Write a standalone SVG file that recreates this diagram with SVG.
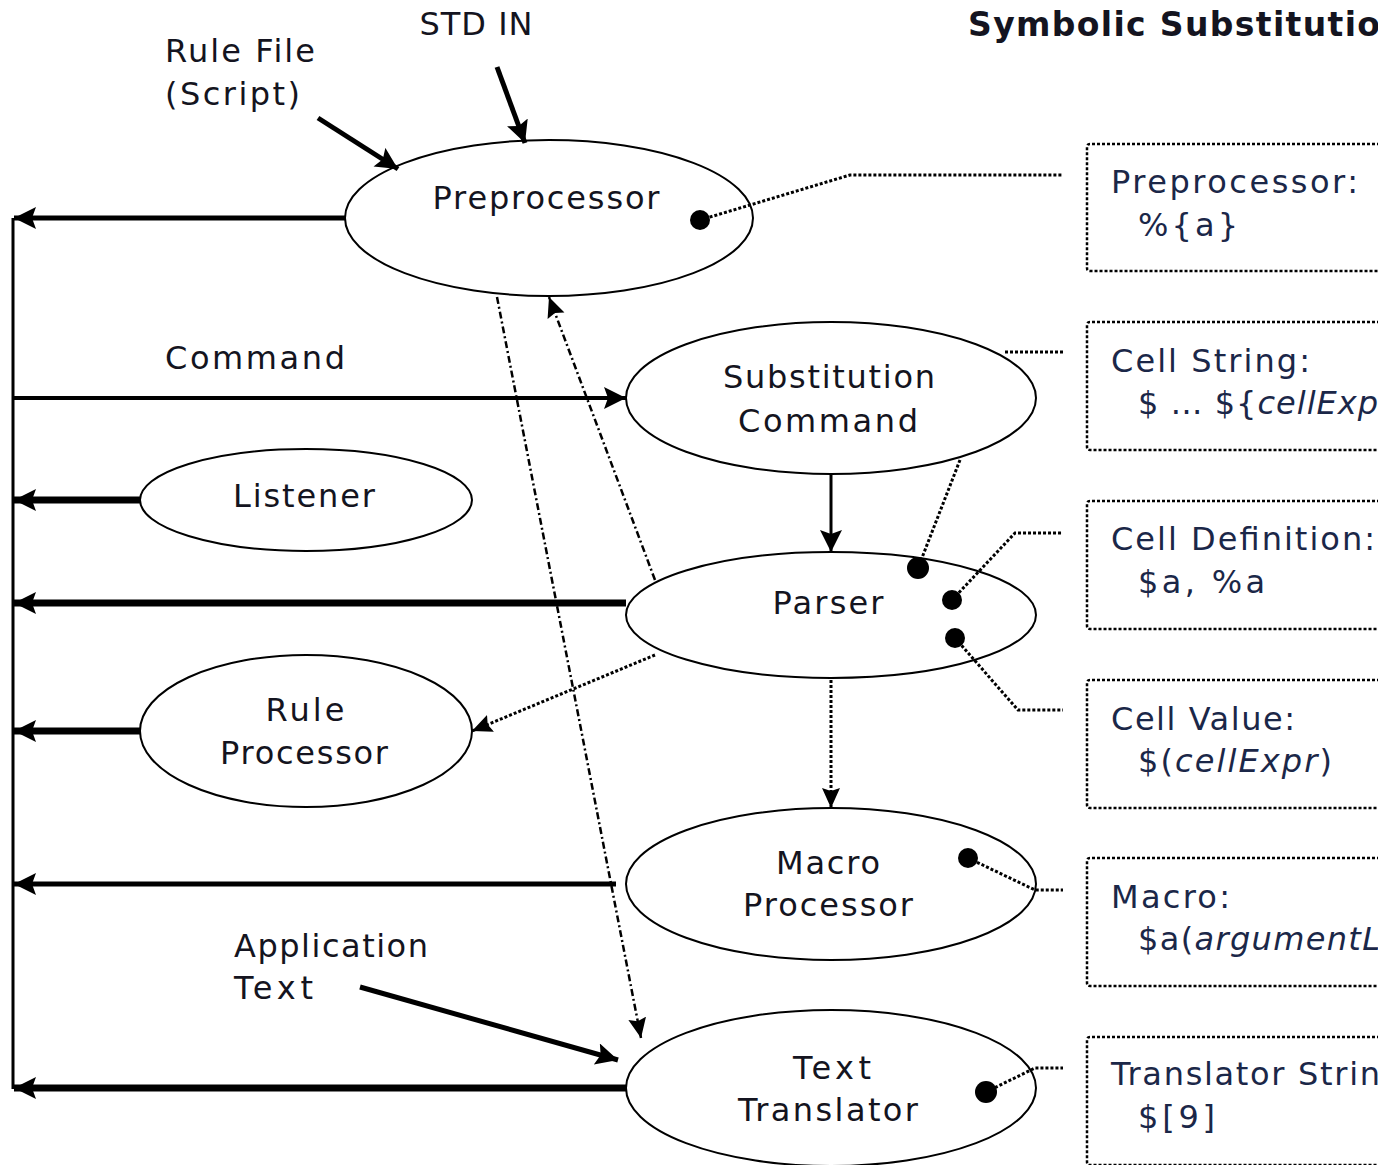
<svg xmlns="http://www.w3.org/2000/svg" width="1378" height="1165" viewBox="0 0 1378 1165">
<style>
text{font-family:"DejaVu Sans","Verdana",sans-serif;font-size:32px;fill:#141420}
.box text{fill:#1b2748}
.title{font-weight:bold;font-size:33px}
.node ellipse{fill:#fff;stroke:#000;stroke-width:2}
.solid{stroke:#000;fill:none}
.dot{stroke:#000;stroke-width:3;fill:none;stroke-dasharray:3 2}
.dashdot{stroke:#000;stroke-width:2.5;fill:none;stroke-dasharray:7 3 2 3}
.frame{stroke:#000;stroke-width:2.5;fill:none;stroke-dasharray:3 2}
.blob{fill:#000}
</style>
<defs>
<marker id="ah" markerUnits="userSpaceOnUse" markerWidth="24" markerHeight="24" refX="22" refY="11" orient="auto">
<path d="M0,0 L22,11 L0,22 L4,11 Z" fill="#000"/>
</marker>
<marker id="ahs" markerUnits="userSpaceOnUse" markerWidth="22" markerHeight="22" refX="20" refY="9" orient="auto">
<path d="M0,0 L20,9 L0,18 L3,9 Z" fill="#000"/>
</marker>
</defs>
<rect width="1378" height="1165" fill="#fff"/>

<g id="labels">
<text x="476" y="35" text-anchor="middle" textLength="113">STD IN</text>
<text x="165" y="62" textLength="150">Rule File</text>
<text x="165" y="105" textLength="135">(Script)</text>
<text x="165" y="369" textLength="180">Command</text>
<text x="234" y="957" textLength="194">Application</text>
<text x="234" y="999" textLength="79">Text</text>
<text class="title" x="968" y="36" textLength="412">Symbolic Substitutio</text>
</g>

<g id="node-preprocessor" class="node">
<ellipse cx="549" cy="218" rx="204" ry="78"/>
<text x="546" y="209" text-anchor="middle" textLength="227">Preprocessor</text>
</g>
<g id="node-substitution" class="node">
<ellipse cx="831" cy="398" rx="205" ry="76"/>
<text x="829" y="388" text-anchor="middle" textLength="212">Substitution</text>
<text x="828" y="432" text-anchor="middle" textLength="180">Command</text>
</g>
<g id="node-listener" class="node">
<ellipse cx="306" cy="500" rx="166" ry="51"/>
<text x="304" y="507" text-anchor="middle" textLength="142">Listener</text>
</g>
<g id="node-parser" class="node">
<ellipse cx="831" cy="615" rx="205" ry="63"/>
<text x="828" y="614" text-anchor="middle" textLength="111">Parser</text>
</g>
<g id="node-rule" class="node">
<ellipse cx="306" cy="731" rx="166" ry="76"/>
<text x="305" y="721" text-anchor="middle" textLength="79">Rule</text>
<text x="304" y="764" text-anchor="middle" textLength="168">Processor</text>
</g>
<g id="node-macro" class="node">
<ellipse cx="831" cy="884" rx="205" ry="76"/>
<text x="828" y="874" text-anchor="middle" textLength="104">Macro</text>
<text x="828" y="916" text-anchor="middle" textLength="170">Processor</text>
</g>
<g id="node-translator" class="node">
<ellipse cx="831" cy="1088" rx="205" ry="78"/>
<text x="832" y="1079" text-anchor="middle" textLength="78">Text</text>
<text x="828" y="1121" text-anchor="middle" textLength="180">Translator</text>
</g>

<g id="box-preprocessor" class="box">
<path class="frame" d="M1380,144 H1090 Q1087,144 1087,147 V268 Q1087,271 1090,271 H1380"/>
<text x="1111" y="193" textLength="247">Preprocessor:</text>
<text x="1138" y="236" textLength="100">%{a}</text>
</g>
<g id="box-cellstring" class="box">
<path class="frame" d="M1380,322 H1090 Q1087,322 1087,325 V447 Q1087,450 1090,450 H1380"/>
<text x="1111" y="372" textLength="199">Cell String:</text>
<text x="1138" y="414" textLength="240">$ … ${<tspan font-style="italic">cellExp</tspan></text>
</g>
<g id="box-celldef" class="box">
<path class="frame" d="M1380,501 H1090 Q1087,501 1087,504 V626 Q1087,629 1090,629 H1380"/>
<text x="1111" y="550" textLength="264">Cell Definition:</text>
<text x="1138" y="593" textLength="127">$a, %a</text>
</g>
<g id="box-cellvalue" class="box">
<path class="frame" d="M1380,680 H1090 Q1087,680 1087,683 V805 Q1087,808 1090,808 H1380"/>
<text x="1111" y="730" textLength="184">Cell Value:</text>
<text x="1138" y="772" textLength="194">$(<tspan font-style="italic">cellExpr</tspan>)</text>
</g>
<g id="box-macro" class="box">
<path class="frame" d="M1380,858 H1090 Q1087,858 1087,861 V983 Q1087,986 1090,986 H1380"/>
<text x="1111" y="908" textLength="119">Macro:</text>
<text x="1138" y="950" textLength="242">$a(<tspan font-style="italic">argumentL</tspan></text>
</g>
<g id="box-translator" class="box">
<path class="frame" d="M1380,1037 H1090 Q1087,1037 1087,1040 V1162 Q1087,1165 1090,1165 H1380"/>
<text x="1111" y="1085" textLength="269">Translator Strin</text>
<text x="1138" y="1128" textLength="77">$[9]</text>
</g>

<g id="connectors">
<line class="solid" x1="13" y1="218" x2="13" y2="1089" stroke-width="3"/>
<line class="solid" x1="345" y1="218" x2="14" y2="218" stroke-width="5" marker-end="url(#ah)"/>
<line class="solid" x1="12" y1="398" x2="626" y2="398" stroke-width="4" marker-end="url(#ah)"/>
<line class="solid" x1="140" y1="500" x2="14" y2="500" stroke-width="7" marker-end="url(#ah)"/>
<line class="solid" x1="626" y1="603" x2="14" y2="603" stroke-width="7" marker-end="url(#ah)"/>
<line class="solid" x1="140" y1="731" x2="14" y2="731" stroke-width="7" marker-end="url(#ah)"/>
<line class="solid" x1="616" y1="884" x2="14" y2="884" stroke-width="5" marker-end="url(#ah)"/>
<line class="solid" x1="626" y1="1088" x2="14" y2="1088" stroke-width="7" marker-end="url(#ah)"/>
<line class="solid" x1="318" y1="118" x2="398" y2="169" stroke-width="5" marker-end="url(#ah)"/>
<line class="solid" x1="497" y1="67" x2="525" y2="143" stroke-width="5" marker-end="url(#ah)"/>
<line class="solid" x1="360" y1="987" x2="618" y2="1060" stroke-width="5" marker-end="url(#ah)"/>
<line class="solid" x1="831" y1="474" x2="831" y2="552" stroke-width="3" marker-end="url(#ah)"/>
<line class="dot" x1="831" y1="680" x2="831" y2="808" marker-end="url(#ahs)"/>
<line class="dot" x1="655" y1="655" x2="472" y2="731" marker-end="url(#ahs)"/>
<line class="dashdot" x1="655" y1="580" x2="549" y2="297" marker-end="url(#ahs)"/>
<line class="dashdot" x1="497" y1="297" x2="641" y2="1038" marker-end="url(#ahs)"/>

<polyline class="dot" points="700,220 850,175 1063,175"/>
<polyline class="dot" points="1063,352 1003,352"/>
<polyline class="dot" points="960,460 918,568"/>
<polyline class="dot" points="952,600 1015,533 1063,533"/>
<polyline class="dot" points="955,638 1018,710 1063,710"/>
<polyline class="dot" points="968,858 1035,890 1063,890"/>
<polyline class="dot" points="986,1092 1035,1068 1063,1068"/>
<circle class="blob" cx="700" cy="220" r="10"/>
<circle class="blob" cx="918" cy="568" r="11"/>
<circle class="blob" cx="952" cy="600" r="10"/>
<circle class="blob" cx="955" cy="638" r="10"/>
<circle class="blob" cx="968" cy="858" r="10"/>
<circle class="blob" cx="986" cy="1092" r="11"/>
</g>
</svg>
